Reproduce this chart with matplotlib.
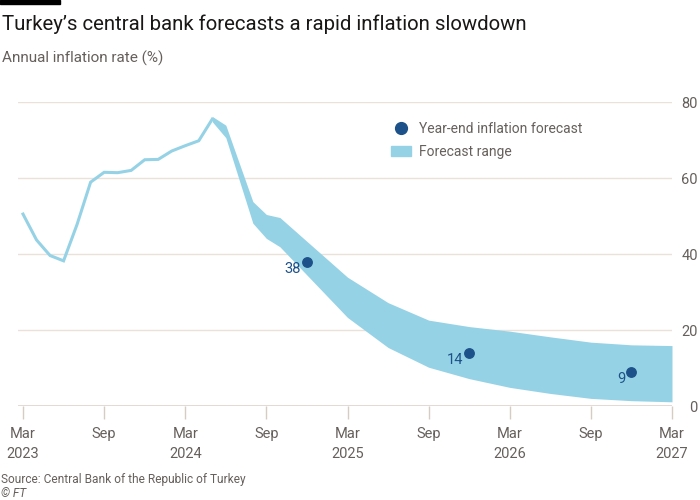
import matplotlib.pyplot as plt
from matplotlib.lines import Line2D
from matplotlib.patches import Patch

plt.rcParams['font.family'] = ['Roboto', 'DejaVu Sans']

# months counted from Mar 2023 (0) to Mar 2027 (48)
actual_months = list(range(15))  # Mar 2023 .. May 2024
actual_rate = [50.5, 43.7, 39.6, 38.2, 47.8, 58.9, 61.5, 61.4, 62.0, 64.8,
               64.9, 67.1, 68.5, 69.8, 75.5]

band_months = [14, 15, 17, 18, 19, 24, 27, 30, 33, 36, 39, 42, 45, 48]
band_upper = [76.2, 73.9, 53.8, 50.4, 49.6, 33.9, 27.2, 22.6, 20.9, 19.7,
              18.2, 16.8, 16.1, 15.9]
band_lower = [74.8, 70.6, 48.1, 44.1, 41.9, 23.3, 15.4, 10.2, 7.2, 4.9,
              3.3, 2.0, 1.4, 1.1]

forecast_months = [21, 33, 45]  # Dec 2024, Dec 2025, Dec 2026
forecast_values = [38, 14, 9]

tick_months = list(range(0, 49, 6))
tick_labels = ['Mar\n2023', 'Sep', 'Mar\n2024', 'Sep', 'Mar\n2025', 'Sep',
               'Mar\n2026', 'Sep', 'Mar\n2027']
y_ticks = [0, 20, 40, 60, 80]

BLUE_LIGHT = '#96d2e5'
BLUE_DARK = '#1d5189'
GREY = '#66605c'
GRID = '#ebe1d8'

fig = plt.figure(figsize=(7, 5), dpi=100)
fig.patch.set_facecolor('white')
ax = fig.add_axes([18/700, 1 - 406/500, (672 - 18)/700, 304/500])

ax.fill_between(band_months, band_lower, band_upper, color=BLUE_LIGHT,
                linewidth=0, zorder=2, clip_on=False)
ax.plot(actual_months, actual_rate, color=BLUE_LIGHT, lw=2.2,
        solid_joinstyle='miter', zorder=3, clip_on=False)
ax.plot(forecast_months, forecast_values, 'o', color=BLUE_DARK, ms=6.8,
        zorder=4, clip_on=False)
for m, v in zip(forecast_months, forecast_values):
    ax.annotate(str(v), (m, v), xytext=(-4.5, -5.5), textcoords='offset points',
                ha='right', va='center', color=BLUE_DARK, fontsize=10.5)

ax.set_xlim(-0.37, 48)
ax.set_ylim(0, 80)
ax.set_xticks(tick_months)
ax.set_xticklabels(tick_labels, linespacing=1.55)
ax.set_yticks(y_ticks)
ax.yaxis.tick_right()
ax.tick_params(axis='y', length=0, pad=18.5, labelsize=10.5, labelcolor=GREY)
for lbl in ax.get_yticklabels():
    lbl.set_ha('right')
ax.tick_params(axis='x', length=9, width=1, color='#d6ccc2', pad=6,
               labelsize=10.5, labelcolor=GREY)
for s in ax.spines.values():
    s.set_visible(False)
ax.grid(axis='y', color=GRID, lw=1, zorder=0)
ax.axhline(0, color='#ddd3ca', lw=1.2, zorder=1)

handles = [Line2D([], [], marker='o', ls='', color=BLUE_DARK, ms=8.5),
           Patch(color=BLUE_LIGHT)]
fig.legend(handles, ['Year-end inflation forecast', 'Forecast range'],
           loc='upper left', bbox_to_anchor=(391/700, 1 - 122/500),
           frameon=False, fontsize=10, handlelength=1.45, handleheight=0.68,
           handletextpad=0.55, labelspacing=0.62, borderpad=0,
           borderaxespad=0, labelcolor=GREY)

# header and footer
fig.patches.append(plt.Rectangle((0, 1 - 4/500), 60/700, 4/500, color='black',
                                 transform=fig.transFigure, figure=fig))
fig.text(2/700, 1 - 30/500, 'Turkey\u2019s central bank forecasts a rapid inflation slowdown',
         fontsize=14.7, color='#1a1817', va='baseline')
fig.text(2/700, 1 - 63/500, 'Annual inflation rate (%)', fontsize=11,
         color=GREY, va='baseline')
fig.text(1/700, 1 - 483/500, 'Source: Central Bank of the Republic of Turkey',
         fontsize=8.6, color=GREY, va='baseline')
fig.text(1/700, 1 - 497/500, '\u00a9 FT', fontsize=8.6, color=GREY,
         style='italic', va='baseline')

fig.savefig('out.png', dpi=100)
